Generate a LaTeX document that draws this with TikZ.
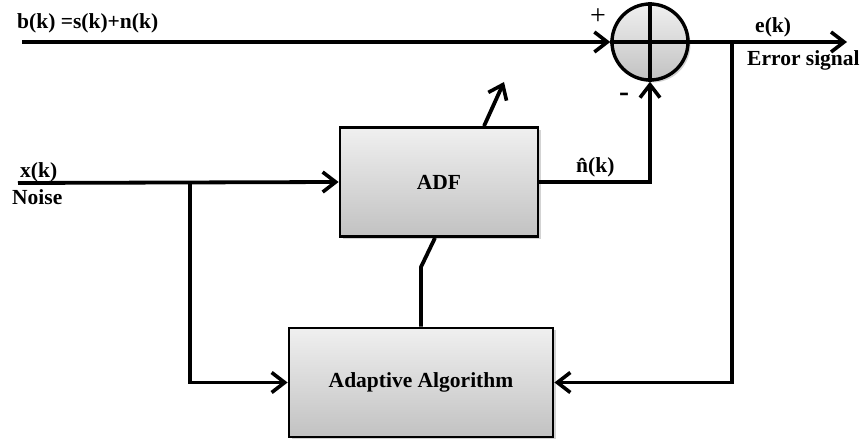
\documentclass[tikz,border=0pt]{standalone}
\usepackage{fontspec}
\setmainfont{Liberation Serif}
\usetikzlibrary{arrows.meta,shadows}
\begin{document}
\begin{tikzpicture}[x=1pt,y=-1pt,
  font=\fontsize{21.5}{25}\selectfont\bfseries,
  sig/.style={line width=3.8pt},
  arr/.style={sig,-{Straight Barb[length=13pt,width=20pt,line width=3.6pt]}},
  block/.style={draw,line width=2.8pt,top color=gray!12,bottom color=gray!48,
    drop shadow={shadow xshift=2.5pt,shadow yshift=-2.5pt,opacity=0.35},
    inner sep=0pt},
  lbl/.style={inner sep=0pt}]
\useasboundingbox (0,0) rectangle (865,443);

% blocks
\node[block,minimum width=198pt,minimum height=109pt] (adf) at (439,182) {\raisebox{-3pt}{ADF}};
\node[block,minimum width=264pt,minimum height=109pt] (alg) at (421,382.5) {\raisebox{4pt}{Adaptive Algorithm}};
\node[block,circle,line width=3.4pt,minimum size=76pt] (sum) at (650,42) {};
\draw[line width=3.4pt] (sum.north) -- (sum.south) (sum.west) -- (sum.east);

% free ends and branch points
\coordinate (bin) at (22,42);
\coordinate (eout) at (847,42);
\coordinate (tap) at (732,42);
\coordinate (xin) at (18,183);
\coordinate (br) at (190,183);
\coordinate (knee) at (421,267);
\coordinate (tune) at (504,82);

% signal paths
\draw[arr] (bin) -- (sum.west);
\draw[arr] (sum.east) -- (eout);
\draw[arr] (tap) |- (alg.east);
\draw[arr] (adf.east) -| (sum.south);
\draw[arr] (xin) -- (adf.west);
\draw[arr] (br) |- (alg.west);
\draw[sig] (alg.north) -- (knee) -- ([xshift=-4pt]adf.south);
\draw[arr] ([xshift=45pt]adf.north) -- (tune);

% labels
\node[lbl,font=\fontsize{28}{32}\selectfont] (lplus) at (598,17) {+};
\node[lbl,font=\fontsize{30}{34}\selectfont\bfseries] (lminus) at (624,97) {-};
\node[lbl,anchor=base west] (lb) at (17,29) {b(k) =s(k)+n(k)};
\node[lbl,anchor=base west] (le) at (755,33) {e(k)};
\node[lbl,anchor=base west] (lerr) at (747,66) {Error signal};
\node[lbl,anchor=base west] (ln) at (576,173) {\^{n}(k)};
\node[lbl,anchor=base west] (lx) at (20,178) {x(k)};
\node[lbl,anchor=base west] (lnoise) at (12,205) {Noise};
\end{tikzpicture}
\end{document}
